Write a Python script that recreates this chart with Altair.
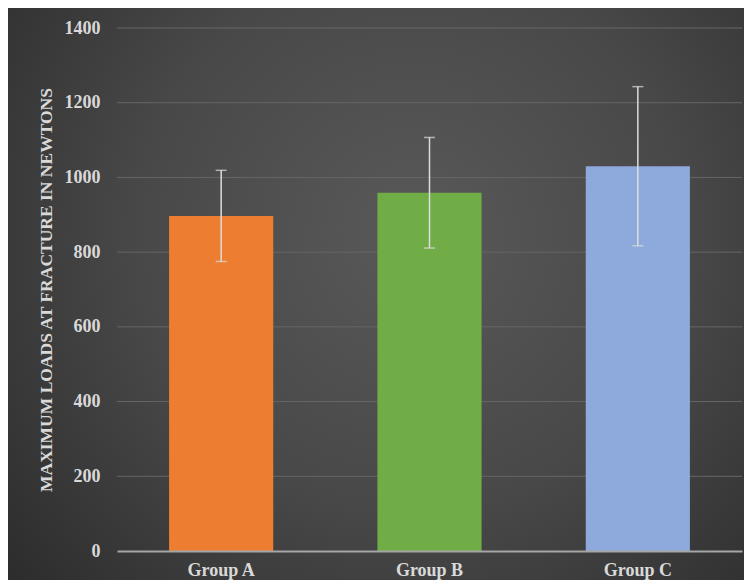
import altair as alt
import pandas as pd

groups = ["Group A", "Group B", "Group C"]
means = [897, 959, 1030]
errors = [122, 148, 213]
colors = ["#ED7D31", "#70AD47", "#8EA9DB"]
y_ticks = [0, 200, 400, 600, 800, 1000, 1200, 1400]
y_title = "MAXIMUM LOADS AT FRACTURE IN NEWTONS"

df = pd.DataFrame({"group": groups, "mean": means, "err": errors, "color": colors})
df["lo"] = df["mean"] - df["err"]
df["hi"] = df["mean"] + df["err"]
grid_df = pd.DataFrame({"v": y_ticks[1:]})

W, H = 625, 523
PL, PT, PR, PB = 109, 20, 2, 29
FONT = "Liberation Serif"
TXT = "#d9d9d9"

grad = alt.Gradient(
    gradient="radial",
    stops=[
        alt.GradientStop(color="#595959", offset=0),
        alt.GradientStop(color="#484848", offset=0.5),
        alt.GradientStop(color="#2a2a2a", offset=1),
    ],
    x1=0.55, y1=0.42, r1=0, x2=0.55, y2=0.42, r2=0.75,
)

bg = alt.Chart(pd.DataFrame({"k": [0]})).mark_rect(color=grad).encode(
    x=alt.value(-PL), x2=alt.value(W + PR), y=alt.value(-PT), y2=alt.value(H + PB)
)

y_scale = alt.Scale(domain=[0, 1400])

grid = alt.Chart(grid_df).mark_rule(color="#666666", strokeWidth=1).encode(
    y=alt.Y("v:Q", scale=y_scale), x=alt.value(0), x2=alt.value(W)
)

x_enc = alt.X(
    "group:N", sort=groups,
    scale=alt.Scale(paddingInner=0.5, paddingOuter=0.25),
    axis=alt.Axis(
        title=None, labelAngle=0, grid=False, ticks=False, labelPadding=10, zindex=1,
        domainColor="#a6a6a6", domainWidth=2,
        labelFont=FONT, labelFontSize=18, labelFontWeight="bold", labelColor=TXT,
    ),
)

bars = alt.Chart(df).mark_bar().encode(
    x=x_enc,
    y=alt.Y(
        "mean:Q", scale=y_scale,
        axis=alt.Axis(
            values=y_ticks, format="d", title=y_title, domain=False, ticks=False, labelPadding=17,
            grid=False, zindex=1,
            labelFont=FONT, labelFontSize=18, labelFontWeight="bold", labelColor=TXT,
            titleFont=FONT, titleFontSize=17.5, titleFontWeight="bold", titleColor=TXT,
            titleAngle=-90, titleX=-71, titleY=H / 2, titleAlign="center", titleBaseline="middle",
        ),
    ),
    color=alt.Color("color:N", scale=None),
)

rules = alt.Chart(df).mark_rule(color="#dddddd", strokeWidth=1.5).encode(
    x=alt.X("group:N", sort=groups), y=alt.Y("lo:Q", scale=y_scale), y2="hi:Q"
)
cap_lo = alt.Chart(df).mark_tick(color="#dddddd", size=11, thickness=1.5).encode(
    x=alt.X("group:N", sort=groups), y=alt.Y("lo:Q", scale=y_scale)
)
cap_hi = alt.Chart(df).mark_tick(color="#dddddd", size=11, thickness=1.5).encode(
    x=alt.X("group:N", sort=groups), y=alt.Y("hi:Q", scale=y_scale)
)

chart = alt.layer(bg, grid, bars, rules, cap_lo, cap_hi).properties(
    width=W, height=H,
    autosize=alt.AutoSizeParams(type="none"),
    padding={"left": PL, "top": PT, "right": PR, "bottom": PB},
    background="#2a2a2a",
).configure_view(stroke=None)

chart.save("out.html", embed_options={"renderer": "svg", "actions": False})
